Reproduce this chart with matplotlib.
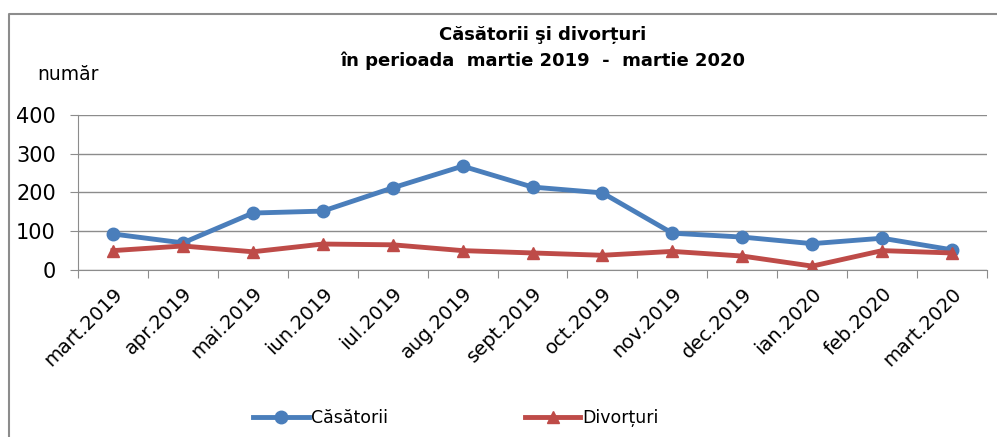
import matplotlib.pyplot as plt
import numpy as np
from matplotlib.lines import Line2D

plt.rcParams['font.family'] = ['DejaVu Sans']

months = ["mart.2019", "apr.2019", "mai.2019", "iun.2019", "iul.2019", "aug.2019",
          "sept.2019", "oct.2019", "nov.2019", "dec.2019", "ian.2020", "feb.2020", "mart.2020"]
casatorii = [93, 70, 147, 152, 212, 268, 214, 199, 95, 85, 68, 82, 52]
divorturi = [50, 62, 47, 67, 65, 50, 44, 38, 48, 36, 10, 50, 44]

W, H = 997, 437
fig = plt.figure(figsize=(W / 100, H / 100), dpi=100)
ax = fig.add_axes([78 / W, 1 - 270 / H, (987 - 78) / W, (270 - 115) / H])

x = np.arange(len(months))
ax.plot(x, casatorii, color="#4A7EBB", lw=3.5, marker="o", ms=9, label="Căsătorii")
ax.plot(x, divorturi, color="#BE4B48", lw=3.5, marker="^", ms=9, label="Divorțuri")

ax.set_xlim(-0.5, len(months) - 0.5)
ax.set_ylim(0, 400)
ax.set_yticks([0, 100, 200, 300, 400])
ax.yaxis.grid(True, color="#8c8c8c", lw=1)
ax.set_axisbelow(True)
for s in ["top", "right"]:
    ax.spines[s].set_visible(False)
ax.spines["left"].set_color("#8c8c8c")
ax.spines["bottom"].set_color("#8c8c8c")
ax.tick_params(axis="y", labelsize=15, color="#8c8c8c", length=6, pad=10)

# category labels between boundary ticks
ax.set_xticks(np.arange(len(months) + 1) - 0.5)
ax.set_xticklabels([])
ax.tick_params(axis="x", color="#8c8c8c", length=6)
ax.set_xticks(x, minor=True)
ax.set_xticklabels(months, minor=True, rotation=45, ha="right", rotation_mode="anchor", fontsize=14)
ax.tick_params(axis="x", which="minor", length=0, pad=10)

fig.text(543 / W, 1 - 48 / H, "Căsătorii şi divorțuri\nîn perioada  martie 2019  -  martie 2020",
         ha="center", va="center", fontsize=13, fontweight="bold", linespacing=1.5)
fig.text(37 / W, 1 - 75 / H, "număr", ha="left", va="center", fontsize=13.5)

fig.legend(loc="center", bbox_to_anchor=(456 / W, 1 - 418 / H), ncol=2, frameon=False,
           fontsize=12.5, columnspacing=7.9, handlelength=3.2, handletextpad=0.1)

# chart-area border (top and left edges visible in the crop)
fig.lines.append(Line2D([9 / W, 9 / W, 1], [0, 1 - 14 / H, 1 - 14 / H], transform=fig.transFigure,
                        color="#8c8c8c", lw=1.5))

fig.savefig("out.png", dpi=100)
